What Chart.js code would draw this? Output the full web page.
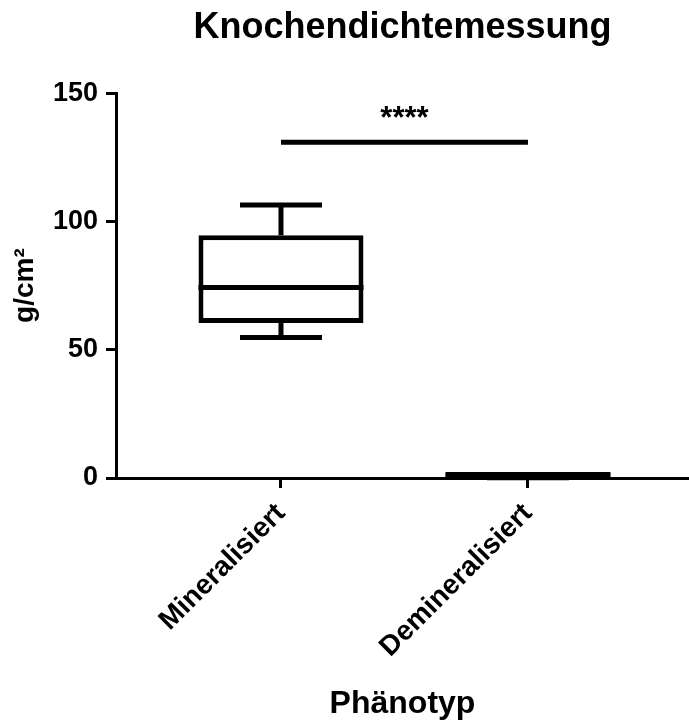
<!DOCTYPE html>
<html>
<head>
<meta charset="utf-8">
<script src="https://cdn.jsdelivr.net/npm/chart.js@4.4.1/dist/chart.umd.min.js"></script>
<style>
  html, body { margin: 0; padding: 0; background: #fff; }
  canvas { display: block; }
</style>
</head>
<body>
<canvas id="chart" width="689" height="720"></canvas>
<script>
const CATEGORIES = ['Mineralisiert', 'Demineralisiert'];
const WHISKER_LOW = [54.8, 0.1];
const Q1 = [60.4, 0.2];
const MEDIAN = [74.3, 1.2];
const Q3 = [94.6, 2.3];
const WHISKER_HIGH = [106.4, 2.3];
const Y_TICKS = [0, 50, 100, 150];
const SIG_LEVEL = 130.9;
const SIG_LABEL = '****';

const FONT = '"Liberation Sans", Arial, sans-serif';
const INK = '#000';

// whiskers, medians and the significance stars, placed via the chart scales
const boxDetails = {
  id: 'boxDetails',
  afterDatasetsDraw(chart) {
    const { ctx, scales: { x, y } } = chart;
    const unit = x.getPixelForValue(1) - x.getPixelForValue(0);
    const boxHalf = unit * 0.334;
    const capHalf = unit * 0.166;
    ctx.save();
    ctx.strokeStyle = INK;
    ctx.lineWidth = 5;
    ctx.lineCap = 'butt';
    CATEGORIES.forEach((_, i) => {
      const cx = x.getPixelForValue(i);
      const line = (x0, y0, x1, y1) => {
        ctx.beginPath();
        ctx.moveTo(x0, y0);
        ctx.lineTo(x1, y1);
        ctx.stroke();
      };
      const yMed = y.getPixelForValue(MEDIAN[i]);
      line(cx - boxHalf, yMed, cx + boxHalf, yMed);
      const yHi = y.getPixelForValue(WHISKER_HIGH[i]);
      const yLo = y.getPixelForValue(WHISKER_LOW[i]);
      if (WHISKER_HIGH[i] > Q3[i]) {
        line(cx, y.getPixelForValue(Q3[i]), cx, yHi);
        line(cx - capHalf, yHi, cx + capHalf, yHi);
      }
      if (WHISKER_LOW[i] < Q1[i]) {
        line(cx, y.getPixelForValue(Q1[i]), cx, yLo);
        line(cx - capHalf, yLo, cx + capHalf, yLo);
      }
    });
    ctx.fillStyle = INK;
    ctx.font = `bold 31px ${FONT}`;
    ctx.textAlign = 'center';
    ctx.textBaseline = 'alphabetic';
    ctx.fillText(SIG_LABEL, x.getPixelForValue(0.5), y.getPixelForValue(SIG_LEVEL) - 14);
    ctx.restore();
  },
};

new Chart(document.getElementById('chart'), {
  type: 'bar',
  data: {
    datasets: [
      {
        type: 'bar',
        data: CATEGORIES.map((_, i) => ({ x: i, y: [Q1[i], Q3[i]] })),
        backgroundColor: '#fff',
        borderColor: INK,
        borderWidth: 5,
        borderSkipped: false,
        categoryPercentage: 1,
        barPercentage: 0.668,
      },
      {
        type: 'line',
        data: [{ x: 0, y: SIG_LEVEL }, { x: 1, y: SIG_LEVEL }],
        borderColor: INK,
        borderWidth: 5,
        borderCapStyle: 'butt',
        pointRadius: 0,
      },
    ],
  },
  options: {
    responsive: false,
    animation: false,
    events: [],
    layout: { padding: 0 },
    plugins: {
      legend: { display: false },
      tooltip: { enabled: false },
      title: {
        display: true,
        text: 'Knochendichtemessung',
        color: INK,
        fullSize: false,
        font: { family: FONT, size: 36, weight: 'bold' },
        padding: { top: 6, bottom: 44 },
      },
    },
    scales: {
      x: {
        type: 'linear',
        min: -0.668,
        max: 1.652,
        offset: false,
        afterBuildTicks: (s) => { s.ticks = CATEGORIES.map((_, i) => ({ value: i })); },
        afterFit: (s) => { s.height = 242; },
        ticks: {
          callback: (v) => CATEGORIES[v],
          minRotation: 45,
          maxRotation: 45,
          color: INK,
          padding: 9,
          font: { family: FONT, size: 28, weight: 'bold' },
        },
        grid: {
          offset: false,
          drawOnChartArea: false,
          tickLength: 10,
          tickWidth: 3,
          tickColor: INK,
          color: INK,
        },
        border: { display: true, color: INK, width: 3 },
        title: {
          display: true,
          text: 'Phänotyp',
          color: INK,
          font: { family: FONT, size: 32, weight: 'bold' },
          padding: { top: 0, bottom: -3 },
        },
      },
      y: {
        min: 0,
        max: 150,
        afterBuildTicks: (s) => { s.ticks = Y_TICKS.map((v) => ({ value: v })); },
        afterFit: (s) => { s.width = 116; },
        ticks: {
          color: INK,
          padding: 8,
          font: { family: FONT, size: 27, weight: 'bold' },
        },
        grid: {
          drawOnChartArea: false,
          tickLength: 10,
          tickWidth: 3,
          tickColor: INK,
          color: INK,
        },
        border: { display: true, color: INK, width: 3 },
        title: {
          display: true,
          text: 'g/cm²',
          color: INK,
          font: { family: FONT, size: 28, weight: 'bold' },
          padding: { top: 8, bottom: 0 },
        },
      },
    },
  },
  plugins: [boxDetails],
});
</script>
</body>
</html>
